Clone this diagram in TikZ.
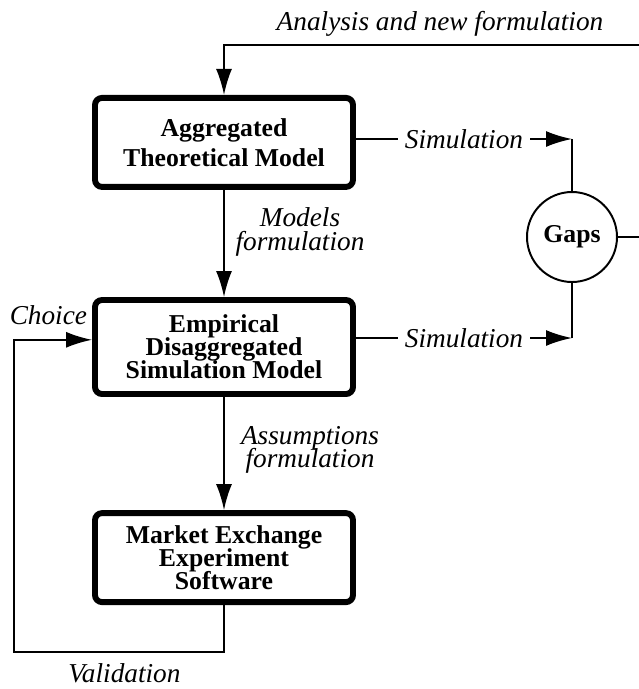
\documentclass[tikz,border=0pt]{standalone}
\usepackage{fontspec}
\setmainfont{Liberation Serif}
\usetikzlibrary{arrows.meta}
\newcommand\tightlead{\lineskiplimit-20pt\relax}

\begin{document}
\begin{tikzpicture}[
  model/.style={draw,line width=4.2pt,rounded corners=5pt,minimum width=6.45cm,
    inner sep=0pt,align=center,
    font=\fontsize{18.3}{16.3}\selectfont\bfseries\tightlead},
  lbl/.style={inner sep=1pt,align=center,
    font=\fontsize{19.4}{16.6}\selectfont\itshape\tightlead},
  flow/.style={line width=1.4pt,-{Latex[length=6.5mm,width=4mm]}},
  link/.style={line width=1.4pt}]
\useasboundingbox (0,0) rectangle (15.975,-17.225);
\clip (0,0) rectangle (15.975,-17.225);
% boxes
\node[model,minimum height=2.225cm] (agg) at (5.6,-3.56) {Aggregated\\[5pt]Theoretical Model};
\node[model,minimum height=2.35cm] (emp) at (5.6,-8.675) {Empirical\\Disaggregated\\Simulation Model};
\node[model,minimum height=2.225cm] (mkt) at (5.6,-13.94) {Market Exchange\\Experiment\\Software};
\node[circle,draw,line width=1.4pt,minimum size=2.25cm,inner sep=0pt,
  font=\fontsize{18.3}{15}\selectfont\bfseries] (gaps) at (14.3,-5.925) {Gaps};
% corners
\coordinate (c1) at (14.3,-3.475);
\coordinate (c2) at (14.3,-8.45);
\coordinate (ret) at (16.3,-1.125);
\coordinate (lp) at (0.35,-16.3);
% labels
\node[lbl] (ana) at (11.0,-0.6) {Analysis and new formulation};
\node[lbl] (mf) at (7.5,-5.8) {Models\\formulation};
\node[lbl] (af) at (7.75,-11.25) {Assumptions\\formulation};
\node[lbl] (cho) at (1.21,-7.88) {Choice};
\node[lbl] (val) at (3.11,-16.82) {Validation};
% connectors
\draw[flow] (agg.east |- c1) -- node[lbl,fill=white,inner xsep=5pt] {Simulation} (c1);
\draw[link] (c1) -- (gaps.north);
\draw[flow] (emp.east |- c2) -- node[lbl,fill=white,inner xsep=5pt] {Simulation} (c2);
\draw[link] (c2) -- (gaps.south);
\draw[flow] (gaps.east) -| (ret) -| (agg.north);
\draw[flow] (agg.south) -- (emp.north);
\draw[flow] (emp.south) -- (mkt.north);
\draw[flow] (mkt.south) |- (lp) |- ([yshift=0.18cm]emp.west);
\end{tikzpicture}
\end{document}
